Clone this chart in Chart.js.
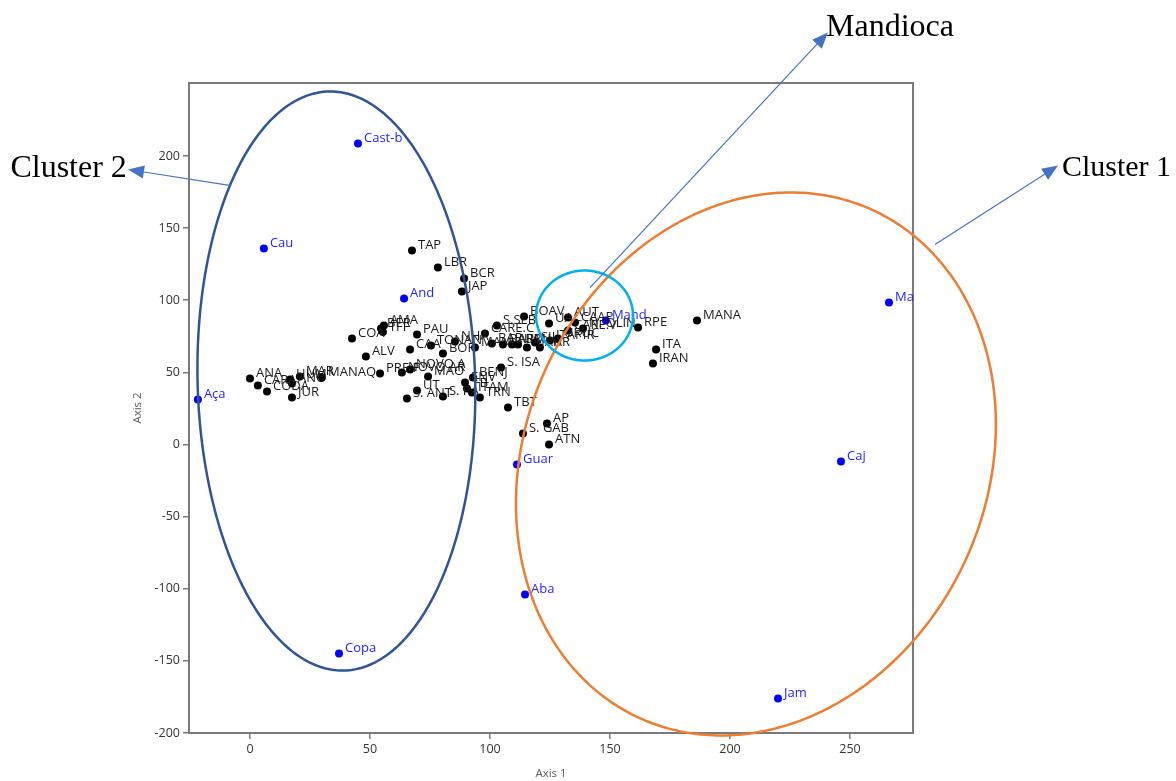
<!DOCTYPE html>
<html><head><meta charset="utf-8">
<script src="https://cdn.jsdelivr.net/npm/chart.js@4.4.1/dist/chart.umd.min.js"></script>
<style>html,body{margin:0;padding:0;background:#fff;}canvas{display:block;}</style>
</head><body>
<canvas id="c" width="1176" height="781"></canvas>
<script>
// ---- data (Axis 1, Axis 2 scores) ----
const blackNames = ['TAP','LBR','BCR','JAP','ANA','CARA','CODA','HUM','ANO','JUR','MAR','MANAQ','COA','BER','AMA','TFF','PAU','ALV','CAA','PRE F','NOVO AR','NOVO A','MAO','S. ANT','UT','S. PA','BOR','TONAN','ENV','BENJ','ITAM','TRN','FB','NHA','MANI','BAR','BARC','ARM','URU','MAU','SIL','PAR','ITAPIR','URUC','CARE.C','S.SEB','BOAV','UA','AUT','CAAP','CARE.V','N. OLIN','RPE','MANA','ITA','IRAN','S. ISA','TBT','S. GAB','AP','ATN'];
const blackX = [67.5,78.3,89.2,88.3,0,3.3,7.1,16.7,17.5,17.5,20.8,30.0,42.5,54.6,55.8,55.4,69.6,48.3,66.7,54.2,63.3,66.7,74.2,65.4,69.6,80.4,80.4,75.4,89.6,92.9,92.5,95.8,90.4,85.4,93.75,100.8,105.4,109.2,111.7,115.4,118.75,120.8,125.0,128.3,97.9,102.9,114.2,124.6,132.5,135.4,132.5,138.75,161.7,186.25,169.2,167.9,104.6,107.5,113.75,123.75,124.6];
const blackY = [134.5,122.7,115.1,106.1,45.8,40.9,36.7,45.1,42.3,32.6,47.1,46.4,73.5,80.4,82.5,78.0,76.3,61.0,65.9,49.2,49.9,52.0,47.1,31.9,37.4,33.3,63.1,68.6,43.0,46.4,36.0,32.6,38.8,71.4,67.2,70.0,69.3,69.3,69.3,67.2,70.7,67.2,72.1,73.5,77.0,82.5,88.7,83.9,88.0,84.6,79.0,80.4,81.1,86.0,65.9,56.2,53.4,25.6,7.6,14.6,0];
const blueNames = ['Cast-b','Cau','And','Aça','Guar','Aba','Copa','Jam','Caj','Ma','Mand'];
const blueX = [45,5.8,64.2,-21.7,111.25,114.6,37.1,220,246.25,266.25,148.3];
const blueY = [208.7,135.9,101.2,31.2,-13.9,-104,-144.9,-176,-11.8,98.4,86.0];
const xTicks = [0,50,100,150,200,250];
const yTicks = [-200,-150,-100,-50,0,50,100,150,200];

// ---- annotations (data units: centre and conjugate semi-axes) ----
const ellipses = [
  {cx:36.0, cy:44.0, ux:-3.25, uy:200.7, vx:57.8, vy:2.6, color:'#2f5597'},
  {cx:210.8, cy:-13.5, ux:48.9, uy:175.8, vx:87.2, vy:-67.2, color:'#ed7d31'},
  {cx:139.4, cy:89.4, ux:0, uy:31.2, vx:20.2, vy:0, color:'#00b0f0'}
];
const arrows = [
  {text:'Cluster 2', x1:-7.9, y1:179.5, x2:-50.8, y2:190.6, tx:-51.3, ty:191.3, align:'right', size:32},
  {text:'Mandioca', x1:141.7, y1:108.8, x2:240.8, y2:285.6, tx:240.0, ty:289.1, align:'left', size:32},
  {text:'Cluster 1', x1:285.4, y1:138.6, x2:336.7, y2:193.4, tx:338.3, ty:191.3, align:'left', size:30}
];

const toPts = (xs, ys) => xs.map((x,i)=>({x, y: ys[i]}));

const overlay = {
  id:'overlay',
  beforeDatasetsDraw(chart){
    const {ctx, chartArea:a} = chart;
    ctx.save();
    ctx.strokeStyle='#7a7a7a'; ctx.lineWidth=2;
    ctx.strokeRect(a.left, a.top, a.right-a.left, a.bottom-a.top);
    ctx.restore();
  },
  afterDatasetsDraw(chart){
    const {ctx} = chart;
    const xs = chart.scales.x, ys = chart.scales.y;
    ctx.save();
    ctx.font = '13px "Open Sans"';
    ctx.textBaseline='middle'; ctx.textAlign='left';
    chart.data.datasets.forEach((ds,i)=>{
      const meta = chart.getDatasetMeta(i);
      ctx.fillStyle = ds.labelColor;
      meta.data.forEach((el,j)=>{ ctx.fillText(ds.names[j], el.x+6, el.y-5); });
    });
    ellipses.forEach(e=>{
      ctx.beginPath();
      for(let k=0;k<=360;k++){
        const t=k*Math.PI/180;
        const px = xs.getPixelForValue(e.cx + e.ux*Math.cos(t) + e.vx*Math.sin(t));
        const py = ys.getPixelForValue(e.cy + e.uy*Math.cos(t) + e.vy*Math.sin(t));
        if(k) ctx.lineTo(px,py); else ctx.moveTo(px,py);
      }
      ctx.closePath();
      ctx.strokeStyle=e.color; ctx.lineWidth=2.5; ctx.stroke();
    });
    arrows.forEach(r=>{
      const x1=xs.getPixelForValue(r.x1), y1=ys.getPixelForValue(r.y1);
      const x2=xs.getPixelForValue(r.x2), y2=ys.getPixelForValue(r.y2);
      const ang=Math.atan2(y2-y1,x2-x1), L=16, W=6.5;
      const bx=x2-L*Math.cos(ang), by=y2-L*Math.sin(ang);
      ctx.strokeStyle='#4472c4'; ctx.fillStyle='#4472c4'; ctx.lineWidth=1.2;
      ctx.beginPath(); ctx.moveTo(x1,y1); ctx.lineTo(bx,by); ctx.stroke();
      ctx.beginPath(); ctx.moveTo(x2,y2);
      ctx.lineTo(bx+W*Math.sin(ang), by-W*Math.cos(ang));
      ctx.lineTo(bx-W*Math.sin(ang), by+W*Math.cos(ang));
      ctx.closePath(); ctx.fill();
      ctx.fillStyle='#000'; ctx.font=r.size+'px "Liberation Serif"';
      ctx.textAlign=r.align; ctx.textBaseline='middle';
      ctx.fillText(r.text, xs.getPixelForValue(r.tx), ys.getPixelForValue(r.ty));
    });
    ctx.restore();
  }
};

const tickFont = {family:'"Open Sans"', size:12.5};
new Chart(document.getElementById('c'), {
  type:'scatter',
  data:{datasets:[
    {data:toPts(blackX,blackY), names:blackNames, labelColor:'#1a1a1a', backgroundColor:'#000', borderWidth:0, pointRadius:4, pointHoverRadius:4},
    {data:toPts(blueX,blueY), names:blueNames, labelColor:'#1f1fff', backgroundColor:'#0000ff', borderWidth:0, pointRadius:4, pointHoverRadius:4}
  ]},
  options:{
    responsive:false, animation:false, devicePixelRatio:1,
    layout:{padding:{left:126, top:83, right:263, bottom:0}},
    plugins:{legend:{display:false}, tooltip:{enabled:false}},
    scales:{
      x:{type:'linear', min:-25.4, max:276.25,
        afterBuildTicks:s=>{s.ticks=xTicks.map(v=>({value:v}));},
        afterFit:s=>{s.height=48;},
        grid:{drawOnChartArea:false, drawTicks:true, tickLength:6, color:'#7a7a7a', lineWidth:1.5},
        border:{display:false},
        ticks:{font:tickFont, color:'#333', padding:3, maxRotation:0},
        title:{display:true, text:'Axis 1', font:{family:'"Open Sans"', size:11.5}, color:'#595959', padding:{top:0,bottom:0}}
      },
      y:{type:'linear', min:-200, max:250.6,
        afterBuildTicks:s=>{s.ticks=yTicks.map(v=>({value:v}));},
        afterFit:s=>{s.width=63;},
        grid:{drawOnChartArea:false, drawTicks:true, tickLength:6, color:'#7a7a7a', lineWidth:1.5},
        border:{display:false},
        ticks:{font:tickFont, color:'#333', padding:3},
        title:{display:true, text:'Axis 2', font:{family:'"Open Sans"', size:11.5}, color:'#595959', padding:{top:5,bottom:0}}
      }
    }
  },
  plugins:[overlay]
});
</script>
</body></html>
